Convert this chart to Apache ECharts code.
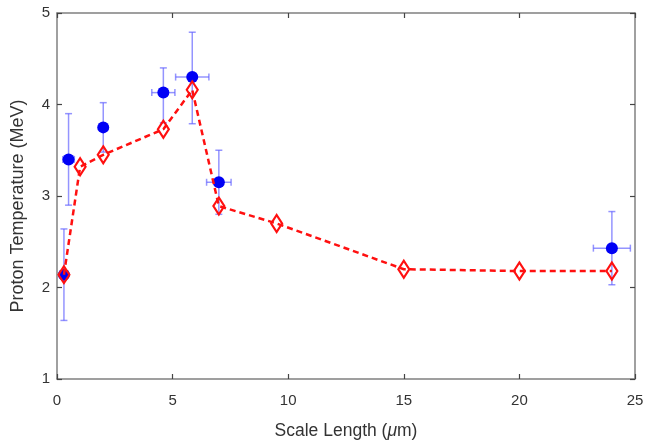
<!DOCTYPE html>
<html><head><meta charset="utf-8">
<script src="https://cdn.jsdelivr.net/npm/echarts@6/dist/echarts.min.js"></script>
<style>html,body{margin:0;padding:0;background:#fff}#c{width:655px;height:442px}</style>
</head><body><div id="c"></div>
<script>
// Simulation (red dashed diamonds)
const simX = [0.3, 1.0, 2.0, 4.6, 5.85, 7.0, 9.5, 15.0, 20.0, 24.0];
const simY = [2.14, 3.32, 3.45, 3.73, 4.16, 2.89, 2.70, 2.20, 2.18, 2.18];
// Experiment (blue circles with error bars)
const expX = [0.3, 0.5, 2.0, 4.6, 5.85, 7.0, 24.0];
const expY = [2.14, 3.40, 3.75, 4.13, 4.30, 3.15, 2.43];
const expYLow = [1.64, 2.90, 3.48, 3.80, 3.79, 2.80, 2.03];
const expYHigh = [2.64, 3.90, 4.02, 4.40, 4.79, 3.50, 2.83];
const expXErr = [0.12, 0.25, 0, 0.5, 0.72, 0.53, 0.8];
const xTicks = [0, 5, 10, 15, 20, 25];
const yTicks = [1, 2, 3, 4, 5];

const font = 'Liberation Sans, Arial, sans-serif';
const axisGray = '#808080';
const chart = echarts.init(document.getElementById('c'), null, {renderer: 'canvas'});

const errData = expX.map((x, i) => [x, expY[i], expYLow[i], expYHigh[i], expXErr[i]]);

const baseX = {
  type: 'value', min: xTicks[0], max: xTicks[xTicks.length - 1], interval: 5,
  axisLine: {show: true, onZero: false, lineStyle: {color: axisGray, width: 1.5}},
  axisTick: {show: true, inside: true, length: 5, lineStyle: {color: '#444', width: 1.2}},
  splitLine: {show: false}
};
const baseY = {
  type: 'value', min: yTicks[0], max: yTicks[yTicks.length - 1], interval: 1,
  axisLine: {show: true, onZero: false, lineStyle: {color: axisGray, width: 1.5}},
  axisTick: {show: true, inside: true, length: 5, lineStyle: {color: '#444', width: 1.2}},
  splitLine: {show: false}
};

chart.setOption({
  animation: false,
  backgroundColor: '#fff',
  grid: {left: 57, right: 20, top: 13, bottom: 63, containLabel: false, outerBoundsMode: 'none'},
  xAxis: [
    Object.assign({}, baseX, {
      position: 'bottom',
      name: 'Scale Length ({i|μ}m)', nameLocation: 'middle', nameGap: 43,
      nameTextStyle: {fontFamily: font, fontSize: 17.5, color: '#333',
        rich: {i: {fontFamily: font, fontSize: 17.5, fontStyle: 'italic', color: '#333'}}},
      axisLabel: {fontFamily: font, fontSize: 15, color: '#333', margin: 14}
    }),
    Object.assign({}, baseX, {position: 'top', axisLabel: {show: false}})
  ],
  yAxis: [
    Object.assign({}, baseY, {
      position: 'left',
      name: 'Proton Temperature (MeV)', nameLocation: 'middle', nameGap: 30,
      nameTextStyle: {fontFamily: font, fontSize: 18, color: '#333', padding: [0, 20, 0, 0]},
      axisLabel: {fontFamily: font, fontSize: 15, color: '#333', margin: 7}
    }),
    Object.assign({}, baseY, {position: 'right', axisLabel: {show: false}})
  ],
  series: [
    {
      type: 'custom', name: 'errors', z: 3,
      data: errData,
      renderItem: function (params, api) {
        const x = api.value(0), y = api.value(1), lo = api.value(2), hi = api.value(3), xe = api.value(4);
        const pTop = api.coord([x, hi]), pBot = api.coord([x, lo]);
        const c = 3.5;
        const style = {stroke: 'rgba(90,90,255,0.65)', lineWidth: 1.5, fill: null};
        const children = [
          {type: 'line', shape: {x1: pTop[0], y1: pTop[1], x2: pBot[0], y2: pBot[1]}, style: style},
          {type: 'line', shape: {x1: pTop[0] - c, y1: pTop[1], x2: pTop[0] + c, y2: pTop[1]}, style: style},
          {type: 'line', shape: {x1: pBot[0] - c, y1: pBot[1], x2: pBot[0] + c, y2: pBot[1]}, style: style}
        ];
        if (xe > 0) {
          const pL = api.coord([x - xe, y]), pR = api.coord([x + xe, y]);
          children.push(
            {type: 'line', shape: {x1: pL[0], y1: pL[1], x2: pR[0], y2: pR[1]}, style: style},
            {type: 'line', shape: {x1: pL[0], y1: pL[1] - c, x2: pL[0], y2: pL[1] + c}, style: style},
            {type: 'line', shape: {x1: pR[0], y1: pR[1] - c, x2: pR[0], y2: pR[1] + c}, style: style}
          );
        }
        return {type: 'group', children: children};
      }
    },
    {
      type: 'scatter', name: 'Experiment', z: 4,
      data: expX.map((x, i) => [x, expY[i]]),
      symbol: 'circle', symbolSize: 12,
      itemStyle: {color: '#0000f5', opacity: 1}
    },
    {
      type: 'line', name: 'Simulation', z: 5,
      data: simX.map((x, i) => [x, simY[i]]),
      symbol: 'diamond', symbolSize: [11, 17], showAllSymbol: true,
      lineStyle: {color: '#ff1010', width: 2.5, type: [6, 4]},
      itemStyle: {color: 'rgba(255,255,255,0)', borderColor: '#ff1010', borderWidth: 2.2}
    }
  ]
});
</script></body></html>
